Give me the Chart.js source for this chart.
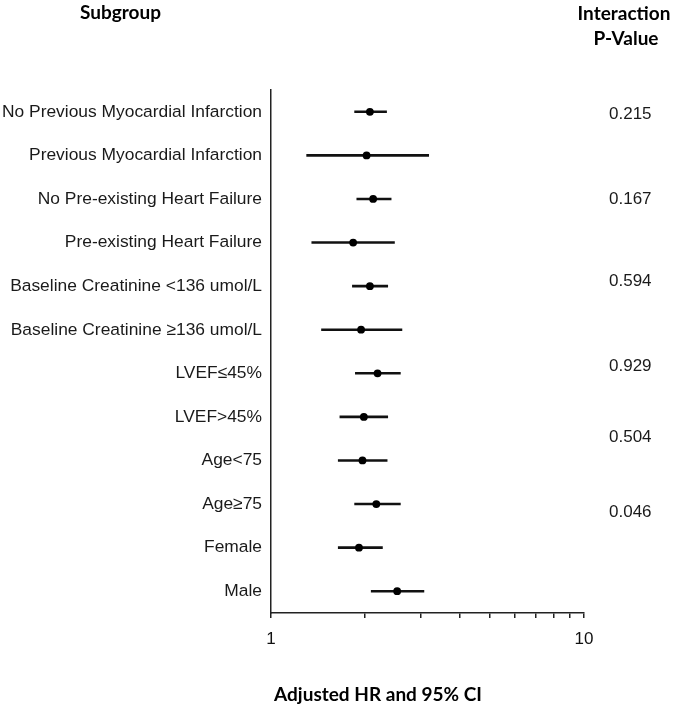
<!DOCTYPE html>
<html>
<head>
<meta charset="utf-8">
<script src="https://cdn.jsdelivr.net/npm/chart.js@4.4.1/dist/chart.umd.min.js"></script>
<style>
  html, body { margin: 0; padding: 0; background: #fff; }
  #wrap { width: 680px; height: 706px; position: relative; }
</style>
</head>
<body>
<div id="wrap"><canvas id="c"></canvas></div>
<script>
// ---- data ----
const subgroups = [
  "No Previous Myocardial Infarction",
  "Previous Myocardial Infarction",
  "No Pre-existing Heart Failure",
  "Pre-existing Heart Failure",
  "Baseline Creatinine <136 umol/L",
  "Baseline Creatinine \u2265136 umol/L",
  "LVEF\u226445%",
  "LVEF>45%",
  "Age<75",
  "Age\u226575",
  "Female",
  "Male"
];
const hazardRatio = [2.07, 2.02, 2.12, 1.83, 2.07, 1.94, 2.19, 1.98, 1.96, 2.17, 1.91, 2.53];
const ciLower     = [1.85, 1.30, 1.88, 1.35, 1.82, 1.45, 1.86, 1.66, 1.64, 1.85, 1.64, 2.09];
const ciUpper     = [2.34, 3.19, 2.42, 2.48, 2.36, 2.62, 2.59, 2.36, 2.35, 2.59, 2.27, 3.08];
const pValues     = ["0.215", "0.167", "0.594", "0.929", "0.504", "0.046"];
const pValueRows  = [0.06, 2.0, 3.9, 5.85, 7.47, 9.2];
const xTickValues = [1, 2, 3, 4, 5, 6, 7, 8, 9, 10];
const xTickLabels = [1, 10];

const labelFont = "'Liberation Sans', Arial, sans-serif";
const headFont = "Lato, 'Open Sans', sans-serif";

const annotations = {
  id: 'annotations',
  afterDraw(chart) {
    const ctx = chart.ctx;
    const ya = chart.scales.y;
    const area = chart.chartArea;
    ctx.save();
    // p-values
    ctx.font = "17px " + labelFont;
    ctx.fillStyle = '#1a1a1a';
    ctx.textAlign = 'left';
    ctx.textBaseline = 'middle';
    pValues.forEach((p, i) => {
      ctx.fillText(p, area.right + 25, ya.getPixelForValue(pValueRows[i]));
    });
    // headers
    ctx.font = "bold 19px " + headFont;
    ctx.fillStyle = '#000';
    ctx.textBaseline = 'alphabetic';
    ctx.textAlign = 'left';
    ctx.fillText('Subgroup', 80, 19);
    ctx.textAlign = 'center';
    ctx.fillText('Interaction', 624, 20);
    ctx.fillText('P-Value', 626, 45);
    ctx.fillText('Adjusted HR and 95% CI', 378, 701);
    ctx.restore();
  }
};

new Chart(document.getElementById('c'), {
  type: 'bar',
  data: {
    labels: subgroups,
    datasets: [
      {
        type: 'bar',
        data: ciLower.map((lo, i) => [lo, ciUpper[i]]),
        backgroundColor: '#111',
        borderWidth: 0,
        barThickness: 2,
        indexAxis: 'y',
        order: 2
      },
      {
        type: 'line',
        data: hazardRatio,
        showLine: false,
        indexAxis: 'y',
        pointStyle: 'circle',
        pointRadius: 3.9,
        pointBackgroundColor: '#000',
        pointBorderColor: '#000',
        pointBorderWidth: 0,
        order: 1
      }
    ]
  },
  options: {
    indexAxis: 'y',
    responsive: true,
    maintainAspectRatio: false,
    animation: false,
    layout: { padding: { top: 90, right: 96, left: 0, bottom: 0 } },
    plugins: { legend: { display: false }, tooltip: { enabled: false }, title: { display: false } },
    scales: {
      x: {
        type: 'logarithmic',
        min: 1,
        max: 10,
        afterBuildTicks(scale) { scale.ticks = xTickValues.map(v => ({ value: v, major: false })); },
        afterFit(scale) { scale.height = 93; },
        border: { display: true, color: '#222', width: 1.5 },
        grid: { display: true, drawOnChartArea: false, drawTicks: true, tickLength: 5, color: '#222', lineWidth: 1.5 },
        ticks: {
          autoSkip: false,
          maxRotation: 0,
          padding: 11,
          color: '#111',
          font: { family: labelFont, size: 17 },
          callback: (v) => xTickLabels.includes(v) ? String(v) : ''
        }
      },
      y: {
        type: 'category',
        offset: true,
        afterFit(scale) { scale.width = 271; },
        border: { display: true, color: '#222', width: 1.5 },
        grid: { display: false, drawTicks: false },
        ticks: {
          padding: 9,
          color: '#1a1a1a',
          font: { family: labelFont, size: 17.4 }
        }
      }
    }
  },
  plugins: [annotations]
});
</script>
</body>
</html>
